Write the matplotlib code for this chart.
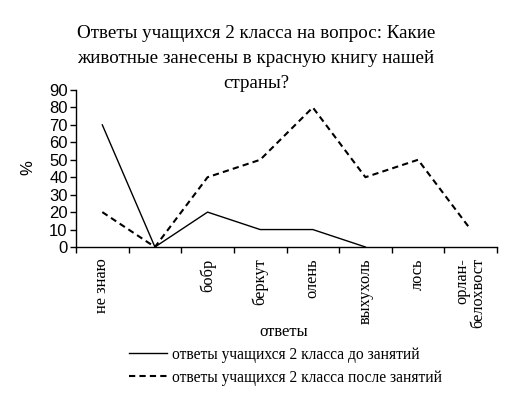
import numpy as np
import matplotlib
matplotlib.use("Agg")
import matplotlib.pyplot as plt

categories = ["не знаю", "", "бобр", "беркут", "олень", "выхухоль", "лось", "орлан-\nбелохвост"]
before = [70, 0, 20, 10, 10, 0]
after = [20, 0, 40, 50, 80, 40, 50, 10]
yticks = [0, 10, 20, 30, 40, 50, 60, 70, 80, 90]

title = "Ответы учащихся 2 класса на вопрос: Какие\nживотные занесены в красную книгу нашей\nстраны?"
label_before = "ответы учащихся 2 класса до занятий"
label_after = "ответы учащихся 2 класса после занятий"

W, H = 511, 397
fig = plt.figure(figsize=(W / 100, H / 100), dpi=100)
ax = fig.add_axes([76 / W, (H - 247) / H, 421 / W, 157 / H])

x = np.arange(len(categories))
ax.plot(x[:len(before)], before, color="black", lw=1.0, label=label_before)
ax.plot(x, after, color="black", lw=1.5, dashes=(3, 2), label=label_after)

ax.set_xlim(-0.5, len(categories) - 0.5)
ax.set_ylim(0, 90)
ax.set_yticks(yticks)
ax.set_yticklabels([str(v) for v in yticks], family="Liberation Sans", fontsize=12)
ax.tick_params(axis="y", length=4, width=1, pad=2)

# category boundaries carry the tick marks, labels sit in between
ax.set_xticks(np.arange(len(categories) + 1) - 0.5)
ax.set_xticklabels([])
ax.tick_params(axis="x", length=4, width=1, direction="out")
for i, c in enumerate(categories):
    ax.text(i, -6.5, c, rotation=90, ha="center", va="top", multialignment="right",
            family="Liberation Serif", fontsize=11.8, transform=ax.transData,
            clip_on=False, linespacing=1.0)

for s in ["top", "right"]:
    ax.spines[s].set_visible(False)
ax.spines["left"].set_linewidth(1)
ax.spines["bottom"].set_linewidth(1)

fig.text(256 / W, 1 - 25 / H, title, ha="center", va="top", family="Liberation Serif",
         fontsize=13.7, linespacing=1.62)
fig.text(28 / W, 1 - 168 / H, "%", rotation=90, ha="center", va="center",
         family="Liberation Sans", fontsize=12)
fig.text(284 / W, 1 - 332 / H, "ответы", ha="center", va="center",
         family="Liberation Serif", fontsize=12)

fig.legend(loc="upper left", bbox_to_anchor=(121 / W, 1 - 339 / H), frameon=False,
           prop={"family": "Liberation Serif", "size": 11.2}, handlelength=2.45,
           handletextpad=0.3, labelspacing=0.45, borderpad=0)

fig.savefig("out.png", dpi=100)
